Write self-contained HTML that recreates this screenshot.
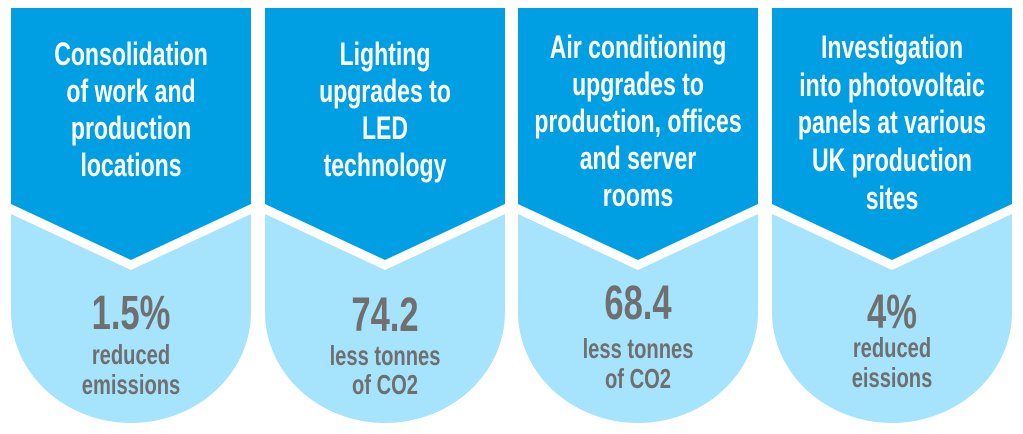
<!DOCTYPE html>
<html><head><meta charset="utf-8"><style>
html,body{margin:0;padding:0;background:#fff;width:1023px;height:434px;overflow:hidden}
svg{display:block}
.t{font-family:"Liberation Sans",sans-serif;font-weight:bold;fill:#fff;font-size:32px;text-anchor:middle}
.n{font-family:"Liberation Sans",sans-serif;font-weight:bold;fill:#6f6f6f;font-size:48px;text-anchor:middle}
.s{font-family:"Liberation Sans",sans-serif;font-weight:bold;fill:#6f6f6f;font-size:28px;text-anchor:middle}
</style></head><body>
<svg width="1023" height="434" viewBox="0 0 1023 434">
<defs>
<g id="card">
<path d="M0,8 H240 V204 L120,260 L0,204 Z" fill="#009fe3"/>
<path d="M0,214 L120,270 L240,214 V312 A120,111 0 0 1 0,312 Z" fill="#a6e3fd"/>
</g>
</defs>
<use href="#card" x="11"/>
<use href="#card" x="265"/>
<use href="#card" x="518"/>
<use href="#card" x="772"/>

<g transform="translate(131,0) scale(0.72,1)">
<text class="t" x="0" y="65">Consolidation</text>
<text class="t" x="0" y="102">of work and</text>
<text class="t" x="0" y="139">production</text>
<text class="t" x="0" y="176">locations</text>
<text class="n" x="0" y="329">1.5%</text>
<text class="s" x="0" y="364">reduced</text>
<text class="s" x="0" y="394">emissions</text>
</g>
<g transform="translate(385,0) scale(0.72,1)">
<text class="t" x="0" y="65">Lighting</text>
<text class="t" x="0" y="102">upgrades to</text>
<text class="t" x="0" y="139">LED</text>
<text class="t" x="0" y="176">technology</text>
<text class="n" x="0" y="331">74.2</text>
<text class="s" x="0" y="365">less tonnes</text>
<text class="s" x="0" y="394">of CO2</text>
</g>
<g transform="translate(638,0) scale(0.72,1)">
<text class="t" x="0" y="58">Air conditioning</text>
<text class="t" x="0" y="95">upgrades to</text>
<text class="t" x="0" y="132">production, offices</text>
<text class="t" x="0" y="169">and server</text>
<text class="t" x="0" y="206">rooms</text>
<text class="n" x="0" y="319">68.4</text>
<text class="s" x="0" y="358">less tonnes</text>
<text class="s" x="0" y="388">of CO2</text>
</g>
<g transform="translate(892,0) scale(0.72,1)">
<text class="t" x="0" y="58">Investigation</text>
<text class="t" x="0" y="96">into photovoltaic</text>
<text class="t" x="0" y="133">panels at various</text>
<text class="t" x="0" y="171">UK production</text>
<text class="t" x="0" y="209">sites</text>
<text class="n" x="0" y="328">4%</text>
<text class="s" x="0" y="357">reduced</text>
<text class="s" x="0" y="387">eissions</text>
</g>
</svg>
</body></html>
